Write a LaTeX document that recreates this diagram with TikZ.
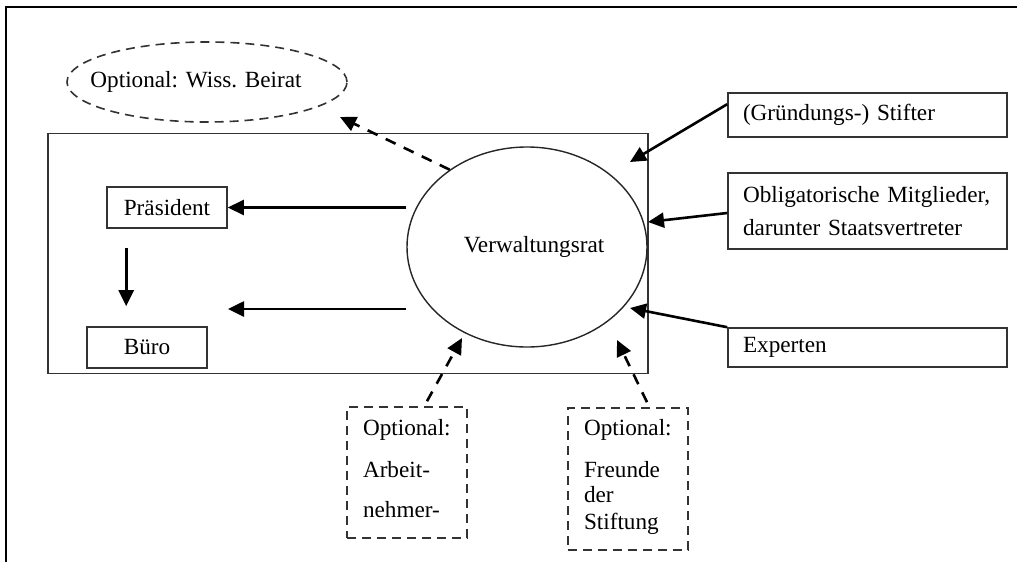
\documentclass[tikz,border=0pt]{standalone}
\usepackage{fontspec}
\setmainfont{Liberation Serif}
\usetikzlibrary{arrows.meta,shapes.geometric,calc}

\tikzset{
  every node/.style={font=\fontsize{23.2pt}{30pt}\selectfont, text=black},
  solidbox/.style={draw=black!80, line width=1.6pt, rectangle, inner sep=0pt},
  infobox/.style={solidbox, inner xsep=15pt, inner ysep=0pt, text width=249pt, align=left},
  optbox/.style={draw=black!80, line width=1.6pt, rectangle, dash pattern=on 9pt off 6pt,
                 inner xsep=16pt, inner ysep=0pt, text width=88pt, align=left,
                 minimum width=120pt},
  council/.style={draw=black!85, line width=1.4pt, ellipse, inner sep=0pt,
                  minimum width=240pt, minimum height=200pt},
  optell/.style={draw=black!80, line width=1.6pt, ellipse, inner sep=0pt,
                 dash pattern=on 9pt off 6pt, minimum width=280pt, minimum height=80pt},
  arr/.style={draw=black, line width=2.6pt, -{Triangle[length=16pt,width=15pt]}},
  darr/.style={arr, dash pattern=on 11pt off 9pt},
  frameline/.style={draw=black, line width=2.6pt},
}

\begin{document}
\begin{tikzpicture}[x=1pt, y=-1pt]
  \useasboundingbox (0,0) rectangle (1017,562);

  % page frame (top and left edges)
  \draw[frameline] (5,7) -- (1017,7);
  \draw[frameline] (6,7) -- (6,562);

  % foundation body
  \node[solidbox, minimum width=600pt, minimum height=240pt] (stiftung) at (348,253.5) {};

  % organs inside the foundation
  \node[council] (vr) at (527,247) {\makebox[0pt]{\hspace{14pt}Verwaltungsrat}};
  \node[solidbox, minimum width=120pt, minimum height=41pt] (prae) at (167,207.5) {Präsident};
  \node[solidbox, minimum width=120pt, minimum height=41pt] (buero) at (147,347.5) {Büro};

  % optional scientific advisory board
  \node[optell] (wb) at (207,82) {\makebox[0pt]{Optional: Wiss. Beirat\hspace{22pt}}};

  % members feeding the board
  \node[infobox, minimum height=44pt] (gs) at (867.5,115)
    {\raisebox{-4pt}{(Gründungs-) Stifter}};
  \node[infobox, minimum height=76pt] (om) at (867.5,211)
    {\rule{0pt}{12pt}Obligatorische Mitglieder,\\[3pt]darunter Staatsvertreter};
  \node[infobox, minimum height=39pt] (ex) at (867.5,347.5) {Experten};

  % optional member groups
  \node[optbox, minimum height=131pt] (ab) at (407,472.5)
    {Optional:\\[12pt]Arbeit-\\[10pt]nehmer-\rule[-9pt]{0pt}{1pt}};
  \node[optbox, minimum height=142pt] (fr) at (628,479)
    {Optional:\\[12pt]Freunde\\[-5pt]der\\[-3pt]Stiftung\rule[-10pt]{0pt}{1pt}};

  % free arrow ends
  \coordinate (bueroIn) at (228,309);
  \coordinate (gsTip) at (630,162);
  \coordinate (omTip) at (648,222);
  \coordinate (exTip) at (630,308);
  \coordinate (abTip) at (462,338);
  \coordinate (frTip) at (617,340);
  \coordinate (wbTip) at (340,117);

  % board directs president and office
  \draw[arr] (vr.west |- prae.east) -- (prae.east);
  \draw[arr] (vr.west |- bueroIn) -- (bueroIn);
  \draw[arr] ([xshift=20pt,yshift=-19pt]prae.south west) -- ([xshift=40pt,yshift=20pt]buero.north west);

  % incoming members
  \draw[arr] ([yshift=-12pt]gs.north west) -- (gsTip);
  \draw[arr] ([yshift=-2pt]om.west) -- (omTip);
  \draw[arr] (ex.north west) -- (exTip);

  % optional links
  \draw[darr] ([xshift=20pt,yshift=5pt]ab.north) -- (abTip);
  \draw[darr] ([xshift=19pt,yshift=5pt]fr.north) -- (frTip);
  \draw[darr] (vr.135) -- (wbTip);
\end{tikzpicture}
\end{document}
